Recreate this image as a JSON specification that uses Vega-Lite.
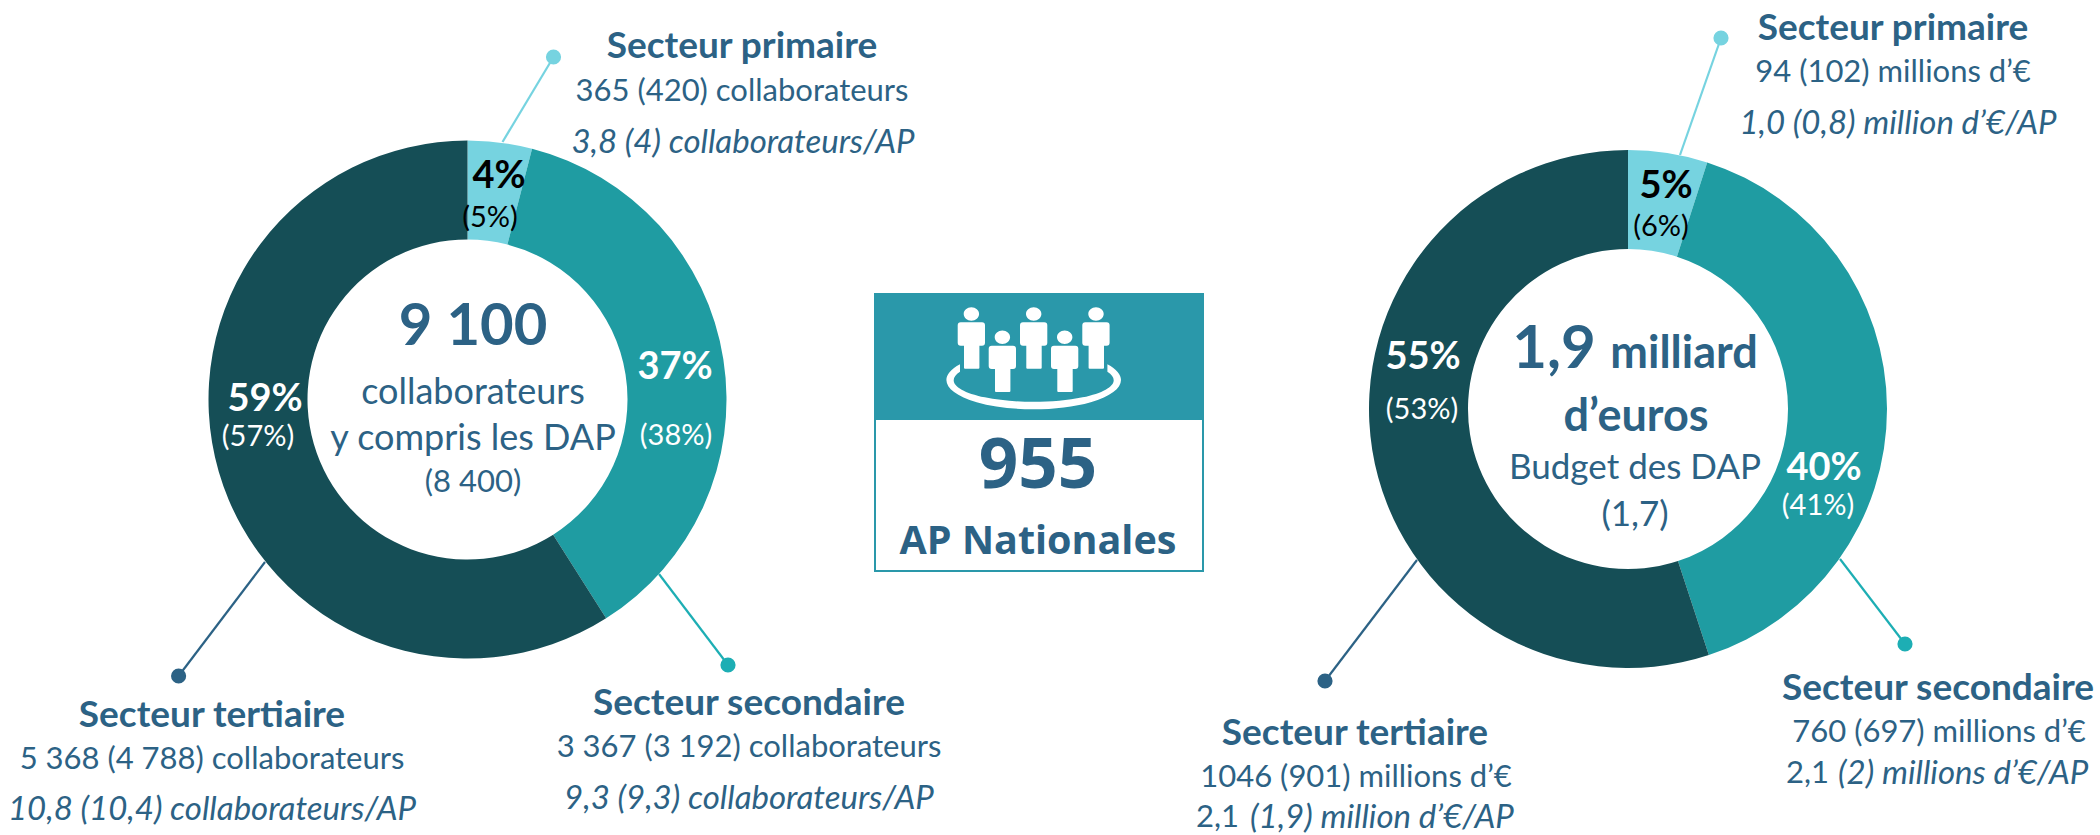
{
"$schema":"https://vega.github.io/schema/vega-lite/v6.json",
"width":2100,"height":835,"padding":0,
"autosize":{"type":"none"},
"background":"white",
"config":{"view":{"stroke":null},"text":{"font":"Lato"}},
"datasets":{
"secteurs":[
{"panel":"collaborateurs","secteur":"primaire","ordre":1,"value":365,"x":467.5,"y":399.5},
{"panel":"collaborateurs","secteur":"secondaire","ordre":2,"value":3367,"x":467.5,"y":399.5},
{"panel":"collaborateurs","secteur":"tertiaire","ordre":3,"value":5368,"x":467.5,"y":399.5},
{"panel":"budget","secteur":"primaire","ordre":1,"value":94,"x":1628,"y":409},
{"panel":"budget","secteur":"secondaire","ordre":2,"value":760,"x":1628,"y":409},
{"panel":"budget","secteur":"tertiaire","ordre":3,"value":1046,"x":1628,"y":409}
],
"traits":[
{"secteur":"primaire","x":502.5,"y":142,"x2":553.5,"y2":57},
{"secteur":"secondaire","x":659,"y":574,"x2":728,"y2":665},
{"secteur":"tertiaire","x":265,"y":562,"x2":178.6,"y2":676},
{"secteur":"primaire","x":1680,"y":155,"x2":1721,"y2":38},
{"secteur":"secondaire","x":1840,"y":559,"x2":1905,"y2":644},
{"secteur":"tertiaire","x":1417,"y":560,"x2":1325,"y2":681}
],
"cadre":[
{"k":"entete","x":874,"x2":1204,"y":293,"y2":419},
{"k":"corps","x":875,"x2":1203,"y":419,"y2":571}
],
"icone":[{"x":1033.7,"y":358}],
"textes":[
{"k":"titre","t":"Secteur primaire","x":742,"y":47},
{"k":"corps","t":"365 (420) collaborateurs","x":742,"y":92},
{"k":"ital","t":"3,8 (4) collaborateurs/AP","x":743,"y":143},
{"k":"titre","t":"Secteur secondaire","x":749,"y":704},
{"k":"corps","t":"3 367 (3 192) collaborateurs","x":749,"y":748},
{"k":"ital","t":"9,3 (9,3) collaborateurs/AP","x":749,"y":799},
{"k":"titre","t":"Secteur tertiaire","x":212,"y":716},
{"k":"corps","t":"5 368 (4 788) collaborateurs","x":212,"y":760},
{"k":"ital","t":"10,8 (10,4) collaborateurs/AP","x":212,"y":810},
{"k":"pctN","t":"4%","x":499,"y":177},
{"k":"parN","t":"(5%)","x":490,"y":218},
{"k":"pctB","t":"37%","x":675,"y":368},
{"k":"parB","t":"(38%)","x":676,"y":436},
{"k":"pctB","t":"59%","x":265,"y":400},
{"k":"parB","t":"(57%)","x":258,"y":437},
{"k":"grand","t":"9 100","x":473,"y":328},
{"k":"corpsC","t":"collaborateurs","x":473,"y":393},
{"k":"corpsC","t":"y compris les DAP","x":473,"y":439},
{"k":"corps","t":"(8 400)","x":473,"y":483},
{"k":"titre","t":"Secteur primaire","x":1893,"y":29},
{"k":"corps","t":"94 (102) millions d’€","x":1893,"y":73},
{"k":"ital","t":"1,0 (0,8) million d’€/AP","x":1898,"y":124},
{"k":"titre","t":"Secteur secondaire","x":1938,"y":689},
{"k":"corps","t":"760 (697) millions d’€","x":1939,"y":733},
{"k":"droite","t":"2,1","x":1829,"y":774},
{"k":"italG","t":"(2) millions d’€/AP","x":1838,"y":774},
{"k":"titre","t":"Secteur tertiaire","x":1355,"y":734},
{"k":"corps","t":"1046 (901) millions d’€","x":1356,"y":778},
{"k":"droite","t":"2,1","x":1239,"y":818},
{"k":"italG","t":"(1,9) million d’€/AP","x":1250,"y":818},
{"k":"pctN","t":"5%","x":1666,"y":187},
{"k":"parN","t":"(6%)","x":1661,"y":227},
{"k":"pctB","t":"55%","x":1423,"y":358},
{"k":"parB","t":"(53%)","x":1422,"y":410},
{"k":"pctB","t":"40%","x":1824,"y":469},
{"k":"parB","t":"(41%)","x":1818,"y":506},
{"k":"grandB","t":"1,9","x":1554,"y":368},
{"k":"moyen","t":"milliard","x":1684,"y":368},
{"k":"moyen","t":"d’euros","x":1636,"y":431},
{"k":"corpsD","t":"Budget des DAP","x":1635,"y":468},
{"k":"corpsD","t":"(1,7)","x":1635,"y":515},
{"k":"nombre","t":"955","x":1038,"y":467},
{"k":"ap","t":"AP Nationales","x":1038,"y":542}
]
},
"encoding":{
"x":{"field":"x","type":"quantitative","stack":null,"axis":null,"scale":{"domain":[0,2100],"nice":false,"zero":false}},
"y":{"field":"y","type":"quantitative","stack":null,"axis":null,"scale":{"domain":[0,835],"nice":false,"zero":false,"reverse":true}}
},
"resolve":{"scale":{"color":"independent"}},
"layer":[
{"data":{"name":"secteurs"},
 "transform":[{"stack":"value","groupby":["panel"],"sort":[{"field":"ordre","order":"ascending"}],"offset":"normalize","as":["t0","t1"]}],
 "mark":{"type":"arc","radius":259,"radius2":160},
 "encoding":{
  "theta":{"field":"t0","type":"quantitative","stack":null,"scale":{"domain":[0,1],"range":[0,6.283185307]}},
  "theta2":{"field":"t1"},
  "color":{"field":"secteur","type":"nominal","legend":null,"scale":{"domain":["primaire","secondaire","tertiaire"],"range":["#76D3E0","#1F9CA2","#154E56"]}}
 }},
{"data":{"name":"traits"},"mark":{"type":"rule","strokeWidth":2.2},
 "encoding":{"x2":{"field":"x2"},"y2":{"field":"y2"},
  "color":{"field":"secteur","type":"nominal","legend":null,"scale":{"domain":["primaire","secondaire","tertiaire"],"range":["#76D3E0","#1DAEB4","#2C6285"]}}}},
{"data":{"name":"traits"},"mark":{"type":"point","filled":true,"opacity":1,"size":230},
 "encoding":{"x":{"field":"x2","type":"quantitative"},"y":{"field":"y2","type":"quantitative"},
  "color":{"field":"secteur","type":"nominal","legend":null,"scale":{"domain":["primaire","secondaire","tertiaire"],"range":["#76D3E0","#1DAEB4","#2C6285"]}}}},
{"data":{"name":"cadre"},"transform":[{"filter":"datum.k==='entete'"}],"mark":{"type":"rect","fill":"#2A98AA"},
 "encoding":{"x2":{"field":"x2"},"y2":{"field":"y2"}}},
{"data":{"name":"cadre"},"transform":[{"filter":"datum.k==='corps'"}],"mark":{"type":"rect","fill":"white","stroke":"#2A98AA","strokeWidth":2},
 "encoding":{"x2":{"field":"x2"},"y2":{"field":"y2"}}},
{"data":{"name":"icone"},"mark":{"type":"point","filled":true,"fill":"white","opacity":1,"size":4,
 "shape":"M -70 -44 a 7.7 6.7 0 1 0 15.4 0 a 7.7 6.7 0 1 0 -15.4 0 z M -7.7 -44 a 7.7 6.7 0 1 0 15.4 0 a 7.7 6.7 0 1 0 -15.4 0 z M 54.6 -44 a 7.7 6.7 0 1 0 15.4 0 a 7.7 6.7 0 1 0 -15.4 0 z M -39 -20.7 a 7.7 6.7 0 1 0 15.4 0 a 7.7 6.7 0 1 0 -15.4 0 z M 23.3 -20.7 a 7.7 6.7 0 1 0 15.4 0 a 7.7 6.7 0 1 0 -15.4 0 z M -73 -35.7 h 21.3 q 3 0 3 3 v 17.4 q 0 3 -3 3 h -2.6 v 22 q 0 1 -1 1 h -13.4 q -1 0 -1 -1 v -22 h -3.3 q -3 0 -3 -3 v -17.4 q 0 -3 3 -3 z M -10.7 -35.7 h 21.3 q 3 0 3 3 v 17.4 q 0 3 -3 3 h -2.6 v 22 q 0 1 -1 1 h -13.4 q -1 0 -1 -1 v -22 h -3.3 q -3 0 -3 -3 v -17.4 q 0 -3 3 -3 z M 51.6 -35.7 h 21.3 q 3 0 3 3 v 17.4 q 0 3 -3 3 h -2.6 v 22 q 0 1 -1 1 h -13.4 q -1 0 -1 -1 v -22 h -3.3 q -3 0 -3 -3 v -17.4 q 0 -3 3 -3 z M -42 -12.3 h 21.3 q 3 0 3 3 v 17.4 q 0 3 -3 3 h -2.6 v 22 q 0 1 -1 1 h -13.4 q -1 0 -1 -1 v -22 h -3.3 q -3 0 -3 -3 v -17.4 q 0 -3 3 -3 z M 20.3 -12.3 h 21.3 q 3 0 3 3 v 17.4 q 0 3 -3 3 h -2.6 v 22 q 0 1 -1 1 h -13.4 q -1 0 -1 -1 v -22 h -3.3 q -3 0 -3 -3 v -17.4 q 0 -3 3 -3 z M -73.7 6.3 A 87.3 29.3 0 1 0 73.7 6.3 L 73.7 13.7 A 80 21.7 0 1 1 -73.7 13.7 Z"},
 "encoding":{}},
{"data":{"name":"textes"},"transform":[{"filter":"datum.k==='titre'"}],"mark":{"type":"text","font":"Lato","fontWeight":"bold","fontSize":37,"fill":"#2C6285"},"encoding":{"text":{"field":"t"}}},
{"data":{"name":"textes"},"transform":[{"filter":"datum.k==='corps'"}],"mark":{"type":"text","font":"Lato","fontSize":31,"fill":"#2C6285"},"encoding":{"text":{"field":"t"}}},
{"data":{"name":"textes"},"transform":[{"filter":"datum.k==='corpsC'"}],"mark":{"type":"text","font":"Lato","fontSize":36,"fill":"#2C6285"},"encoding":{"text":{"field":"t"}}},
{"data":{"name":"textes"},"transform":[{"filter":"datum.k==='corpsD'"}],"mark":{"type":"text","font":"Lato","fontSize":35,"fill":"#2C6285"},"encoding":{"text":{"field":"t"}}},
{"data":{"name":"textes"},"transform":[{"filter":"datum.k==='ital'"}],"mark":{"type":"text","font":"Lato","fontStyle":"italic","fontSize":33,"fill":"#2C6285"},"encoding":{"text":{"field":"t"}}},
{"data":{"name":"textes"},"transform":[{"filter":"datum.k==='italG'"}],"mark":{"type":"text","font":"Lato","fontStyle":"italic","fontSize":33,"fill":"#2C6285","align":"left"},"encoding":{"text":{"field":"t"}}},
{"data":{"name":"textes"},"transform":[{"filter":"datum.k==='droite'"}],"mark":{"type":"text","font":"Lato","fontSize":31,"fill":"#2C6285","align":"right"},"encoding":{"text":{"field":"t"}}},
{"data":{"name":"textes"},"transform":[{"filter":"datum.k==='pctN'"}],"mark":{"type":"text","font":"Lato","fontWeight":"bold","fontSize":38,"fill":"#000000"},"encoding":{"text":{"field":"t"}}},
{"data":{"name":"textes"},"transform":[{"filter":"datum.k==='parN'"}],"mark":{"type":"text","font":"Lato","fontSize":29,"fill":"#000000"},"encoding":{"text":{"field":"t"}}},
{"data":{"name":"textes"},"transform":[{"filter":"datum.k==='pctB'"}],"mark":{"type":"text","font":"Lato","fontWeight":"bold","fontSize":38,"fill":"#FFFFFF"},"encoding":{"text":{"field":"t"}}},
{"data":{"name":"textes"},"transform":[{"filter":"datum.k==='parB'"}],"mark":{"type":"text","font":"Lato","fontSize":29,"fill":"#FFFFFF"},"encoding":{"text":{"field":"t"}}},
{"data":{"name":"textes"},"transform":[{"filter":"datum.k==='grand'"}],"mark":{"type":"text","font":"Lato","fontWeight":"bold","fontSize":58,"fill":"#2C6285"},"encoding":{"text":{"field":"t"}}},
{"data":{"name":"textes"},"transform":[{"filter":"datum.k==='grandB'"}],"mark":{"type":"text","font":"Lato","fontWeight":"bold","fontSize":60,"fill":"#2C6285","baseline":"alphabetic"},"encoding":{"text":{"field":"t"}}},
{"data":{"name":"textes"},"transform":[{"filter":"datum.k==='moyen'"}],"mark":{"type":"text","font":"Lato","fontWeight":"bold","fontSize":45,"fill":"#2C6285","baseline":"alphabetic"},"encoding":{"text":{"field":"t"}}},
{"data":{"name":"textes"},"transform":[{"filter":"datum.k==='nombre'"}],"mark":{"type":"text","font":"Open Sans","fontWeight":"bold","fontSize":69,"fill":"#2C6285"},"encoding":{"text":{"field":"t"}}},
{"data":{"name":"textes"},"transform":[{"filter":"datum.k==='ap'"}],"mark":{"type":"text","font":"Open Sans","fontWeight":"bold","fontSize":39.5,"fill":"#2C6285"},"encoding":{"text":{"field":"t"}}}
]
}
